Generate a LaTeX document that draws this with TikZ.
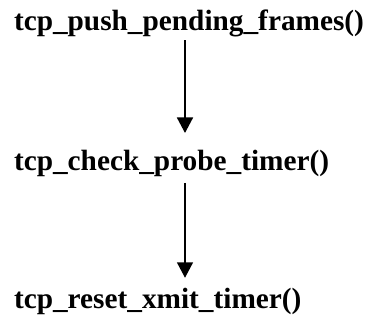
\documentclass[tikz,border=0pt]{standalone}
\usepackage{fontspec}
\setmainfont{Liberation Serif}
\usetikzlibrary{arrows.meta}
\begin{document}
\begin{tikzpicture}[x=1bp,y=1bp,
  fname/.style={anchor=base west, inner sep=0pt, outer sep=0pt,
    font=\fontsize{29.3bp}{34bp}\selectfont\bfseries},
  call/.style={line width=1.6bp, -{Triangle[width=16bp,length=15.5bp]}}]
  \useasboundingbox (0,0) rectangle (367,-324);
  % call chain of the TCP transmit path
  \node[fname] (push)  at (14,-30.5) {tcp\_push\_pending\_frames()};
  \node[fname] (probe) at (14,-170.5) {tcp\_check\_probe\_timer()};
  \node[fname] (reset) at (14,-308.8) {tcp\_reset\_xmit\_timer()};
  \coordinate (col) at (185,0);
  \draw[call, shorten <=3.2bp, shorten >=17.2bp] (push.south -| col) -- (probe.north -| col);
  \draw[call, shorten <=6.2bp, shorten >=10.7bp] (probe.south -| col) -- (reset.north -| col);
\end{tikzpicture}
\end{document}
